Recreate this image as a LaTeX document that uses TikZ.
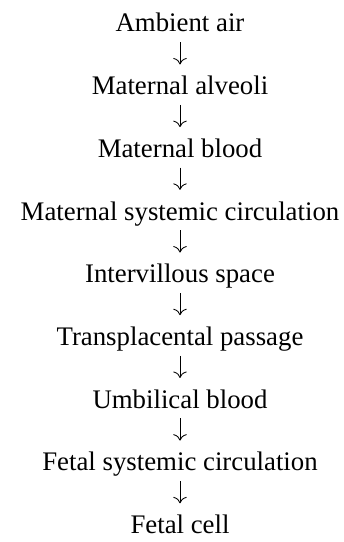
\documentclass[tikz,border=0pt]{standalone}
\usepackage{fontspec}
\setmainfont{Liberation Serif}
\usetikzlibrary{arrows.meta}
\tikzset{
  stage/.style={inner sep=0pt, anchor=base, font=\fontsize{20.1}{24}\selectfont,
    text height=22.5pt, text depth=7.5pt},
  flow/.style={-{To[scale=1.6]}, line width=0.65pt}
}
\begin{document}
\begin{tikzpicture}[x=0.75pt,y=-0.75pt]
\useasboundingbox (0,0) rectangle (343,542);
\foreach \i/\t in {0/Ambient air, 1/Maternal alveoli, 2/Maternal blood,
    3/Maternal systemic circulation, 4/Intervillous space,
    5/Transplacental passage, 6/Umbilical blood,
    7/Fetal systemic circulation, 8/Fetal cell}
  \node[stage] (s\i) at (180,32+62.7*\i) {\t};
\foreach \i [evaluate=\i as \j using int(\i+1)] in {0,...,7}
  \draw[flow] (s\i) -- (s\j);
\end{tikzpicture}
\end{document}
